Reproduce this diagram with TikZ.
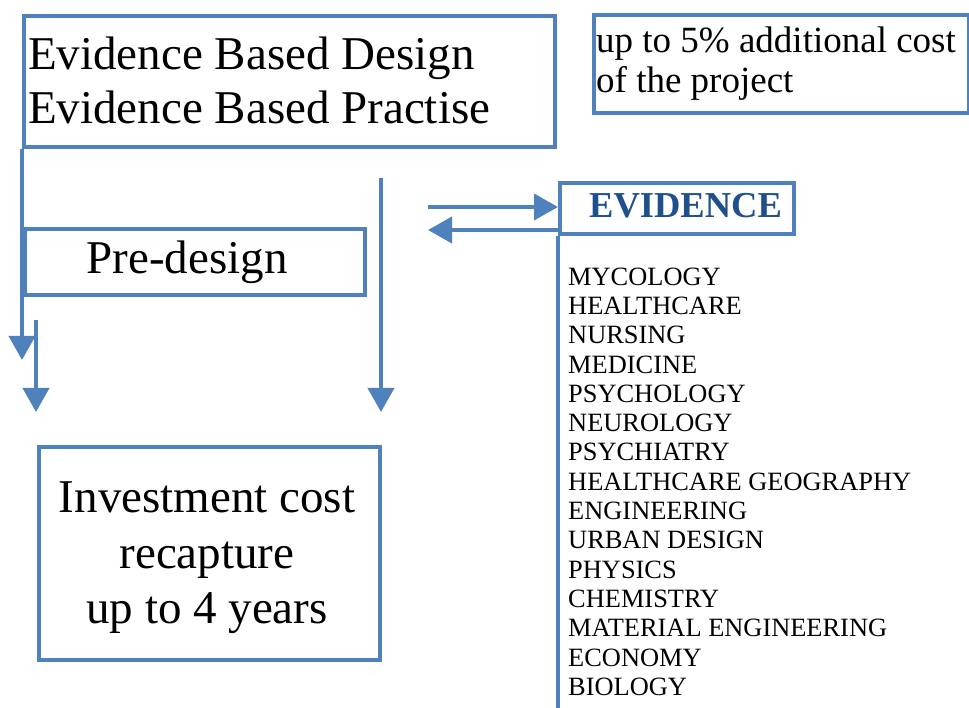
\documentclass[tikz,border=0pt]{standalone}
\usepackage{fontspec}
\setmainfont{Liberation Serif}
\usetikzlibrary{arrows.meta}
\definecolor{lineblue}{RGB}{79,129,189}
\definecolor{evblue}{RGB}{31,80,140}
\tikzset{
  boxframe/.style={draw=lineblue, line width=4pt, inner sep=0pt, anchor=north west},
  conn/.style={draw=lineblue, line width=4pt},
  arr/.style={conn, -{Triangle[length=24pt,width=26pt]}},
  txt/.style={inner sep=0pt, text=black}
}
\begin{document}
\begin{tikzpicture}[x=1pt,y=-1pt]
\useasboundingbox (0,0) rectangle (969,708);
% boxes
\node[boxframe, minimum width=531pt, minimum height=131pt] (ebd) at (22,14) {};
\node[boxframe, minimum width=340pt, minimum height=66pt] (pre) at (23,227) {};
\node[boxframe, minimum width=341pt, minimum height=213pt] (inv) at (37,445) {};
\node[boxframe, minimum width=375pt, minimum height=98pt] (cost) at (592,13) {};
\node[boxframe, minimum width=234pt, minimum height=51pt] (ev) at (558,181) {};
% texts
\node[txt, anchor=north west, align=left, font=\fontsize{47}{54}\selectfont] (ebdtext) at (28,37) {Evidence Based Design\\Evidence Based Practise};
\node[txt, anchor=base, font=\fontsize{47}{54}\selectfont] (pretext) at (187,274) {Pre-design};
\node[txt, anchor=north, align=center, font=\fontsize{47}{55.5}\selectfont] (invtext) at (207,482) {Investment cost\\recapture\\up to 4 years};
\node[txt, anchor=north west, align=left, font=\fontsize{37}{40}\selectfont] (costtext) at (596,27) {up to 5\% additional cost\\of the project};
\node[txt, anchor=base west, text=evblue, font=\fontsize{36.5}{40}\selectfont\bfseries] (evtext) at (589,218) {EVIDENCE};
\node[txt, anchor=north west, align=left, font=\fontsize{26.4}{29.3}\selectfont] (list) at (568,267.5) {MYCOLOGY\\HEALTHCARE\\NURSING\\MEDICINE\\PSYCHOLOGY\\NEUROLOGY\\PSYCHIATRY\\HEALTHCARE GEOGRAPHY\\ENGINEERING\\URBAN DESIGN\\PHYSICS\\CHEMISTRY\\MATERIAL ENGINEERING\\ECONOMY\\BIOLOGY};
% coordinates
\coordinate (a1end) at (22,360);
\coordinate (a2start) at (36,320);
\coordinate (a2end) at (36,412);
\coordinate (a3start) at (381,178);
\coordinate (a3end) at (381,412);
\coordinate (rstart) at (428,207);
\coordinate (lstart) at (558,230);
\coordinate (lend) at (428,230);
\coordinate (evbottom) at (558,710);
% connectors
\draw[arr] (ebd.south west) -- (a1end);
\draw[arr] (a2start) -- (a2end);
\draw[arr] (a3start) -- (a3end);
\draw[arr] (rstart) -- (ev.west |- rstart);
\draw[arr] (lstart) -- (lend);
\draw[conn] (ev.south west) -- (evbottom);
\end{tikzpicture}
\end{document}
